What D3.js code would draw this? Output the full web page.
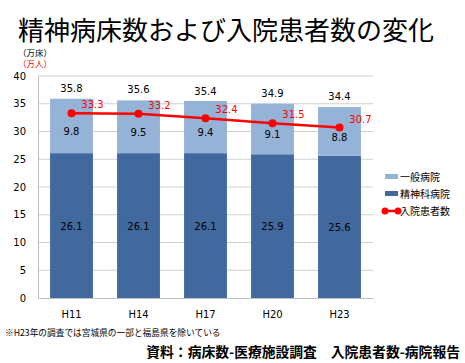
<!DOCTYPE html>
<html>
<head>
<meta charset="utf-8">
<script src="https://cdn.jsdelivr.net/npm/d3@7"></script>
<style>
  body { margin: 0; background: #fff; }
  text { font-family: "Noto Sans CJK JP", sans-serif; }
  .num { font-family: "DejaVu Sans", Verdana, sans-serif; }
</style>
</head>
<body>
<div id="chart"></div>
<script>
// Data
var years = ['H11', 'H14', 'H17', 'H20', 'H23']
var psychBeds = [26.1, 26.1, 26.1, 25.9, 25.6]   // 精神科病院
var generalBeds = [9.8, 9.5, 9.4, 9.1, 8.8]     // 一般病院
var totalBeds = [35.8, 35.6, 35.4, 34.9, 34.4]
var inpatients = [33.3, 33.2, 32.4, 31.5, 30.7] // 入院患者数
var yTicks = [0, 5, 10, 15, 20, 25, 30, 35, 40]

const width = 465
const height = 363
const margin = { left: 38, right: 92, top: 76, bottom: 65 }

const darkBlue = '#41699e'
const lightBlue = '#95b3d7'
const red = '#ff0000'

var svg = d3.select('#chart')
  .append('svg')
  .attr('width', width)
  .attr('height', height)

var x = d3.scaleBand()
  .domain(years)
  .range([margin.left, width - margin.right])
  .paddingInner(0.36)
  .paddingOuter(0.18)

var y = d3.scaleLinear()
  .domain([0, 40])
  .range([height - margin.bottom, margin.top])

// Title
svg.append('text')
  .attr('x', 18)
  .attr('y', 40)
  .attr('font-size', 26)
  .attr('fill', '#000')
  .text('精神病床数および入院患者数の変化')

// Unit labels
svg.append('text').attr('x', 18).attr('y', 56).attr('font-size', 8.5).attr('fill', '#000').text('（万床）')
svg.append('text').attr('x', 18).attr('y', 67).attr('font-size', 8.5).attr('fill', red).text('（万人）')

// Gridlines
svg.append('g')
  .selectAll('line')
  .data(yTicks.slice(1))
  .enter().append('line')
    .attr('x1', margin.left)
    .attr('x2', width - margin.right)
    .attr('y1', d => y(d))
    .attr('y2', d => y(d))
    .attr('stroke', '#d0d0d0')

// Y axis
var yAxis = svg.append('g')
  .attr('transform', 'translate(' + margin.left + ',0)')
  .call(d3.axisLeft(y).tickValues(yTicks).tickSize(0).tickPadding(12))
yAxis.select('.domain').attr('stroke', '#bfbfbf')
yAxis.selectAll('text').attr('class', 'num').attr('font-size', 10).attr('fill', '#000')

// Bars: psychiatric (bottom) then general (top)
var bars = svg.append('g')
bars.selectAll('rect.psych')
  .data(years)
  .enter().append('rect')
    .attr('class', 'psych')
    .attr('x', d => x(d))
    .attr('width', x.bandwidth())
    .attr('y', (d, i) => y(psychBeds[i]))
    .attr('height', (d, i) => y(0) - y(psychBeds[i]))
    .attr('fill', darkBlue)

bars.selectAll('rect.general')
  .data(years)
  .enter().append('rect')
    .attr('class', 'general')
    .attr('x', d => x(d))
    .attr('width', x.bandwidth())
    .attr('y', (d, i) => y(psychBeds[i] + generalBeds[i]))
    .attr('height', (d, i) => y(psychBeds[i]) - y(psychBeds[i] + generalBeds[i]))
    .attr('fill', lightBlue)

// X axis
var xAxis = svg.append('g')
  .attr('transform', 'translate(0,' + y(0) + ')')
  .call(d3.axisBottom(x).tickSize(0).tickPadding(13))
xAxis.select('.domain').attr('stroke', '#bfbfbf')
xAxis.selectAll('text').attr('class', 'num').attr('font-size', 10).attr('fill', '#000')

// Segment labels
var cx = d => x(d) + x.bandwidth() / 2
svg.append('g').selectAll('text')
  .data(years)
  .enter().append('text')
    .attr('class', 'num')
    .attr('x', cx)
    .attr('y', (d, i) => y(psychBeds[i] / 2) + 4)
    .attr('text-anchor', 'middle')
    .attr('font-size', 10)
    .text((d, i) => psychBeds[i].toFixed(1))

svg.append('g').selectAll('text')
  .data(years)
  .enter().append('text')
    .attr('class', 'num')
    .attr('x', cx)
    .attr('y', (d, i) => y(psychBeds[i] + generalBeds[i] / 2) + 9)
    .attr('text-anchor', 'middle')
    .attr('font-size', 10)
    .text((d, i) => generalBeds[i].toFixed(1))

svg.append('g').selectAll('text')
  .data(years)
  .enter().append('text')
    .attr('class', 'num')
    .attr('x', cx)
    .attr('y', (d, i) => y(totalBeds[i]) - 7)
    .attr('text-anchor', 'middle')
    .attr('font-size', 10)
    .text((d, i) => totalBeds[i].toFixed(1))

// Inpatient line
var line = d3.line()
  .x((d, i) => cx(years[i]))
  .y(d => y(d))

svg.append('path')
  .datum(inpatients)
  .attr('fill', 'none')
  .attr('stroke', red)
  .attr('stroke-width', 2.5)
  .attr('d', line)

svg.append('g').selectAll('circle')
  .data(inpatients)
  .enter().append('circle')
    .attr('cx', (d, i) => cx(years[i]))
    .attr('cy', d => y(d))
    .attr('r', 4)
    .attr('fill', red)

svg.append('g').selectAll('text')
  .data(inpatients)
  .enter().append('text')
    .attr('class', 'num')
    .attr('x', (d, i) => cx(years[i]) + 21)
    .attr('y', d => y(d) - 5)
    .attr('text-anchor', 'middle')
    .attr('font-size', 10)
    .attr('fill', red)
    .text(d => d.toFixed(1))

// Legend
var legend = svg.append('g').attr('transform', 'translate(385,0)')
legend.append('rect').attr('x', 0).attr('y', 174).attr('width', 13).attr('height', 5).attr('fill', lightBlue)
legend.append('text').attr('x', 15).attr('y', 181).attr('font-size', 10).text('一般病院')
legend.append('rect').attr('x', 0).attr('y', 191).attr('width', 13).attr('height', 5).attr('fill', darkBlue)
legend.append('text').attr('x', 15).attr('y', 198).attr('font-size', 10).text('精神科病院')
legend.append('line').attr('x1', 0).attr('x2', 13).attr('y1', 211).attr('y2', 211).attr('stroke', red).attr('stroke-width', 2.5)
legend.append('circle').attr('cx', 0).attr('cy', 211).attr('r', 3.5).attr('fill', red)
legend.append('circle').attr('cx', 13).attr('cy', 211).attr('r', 3.5).attr('fill', red)
legend.append('text').attr('x', 15).attr('y', 215).attr('font-size', 10).text('入院患者数')

// Notes
svg.append('text')
  .attr('x', 5).attr('y', 336)
  .attr('font-size', 8.7)
  .text('※H23年の調査では宮城県の一部と福島県を除いている')

svg.append('text')
  .attr('x', 460).attr('y', 357)
  .attr('text-anchor', 'end')
  .attr('font-size', 13.8)
  .attr('font-weight', 'bold')
  .text('資料：病床数-医療施設調査　入院患者数-病院報告')
</script>
</body>
</html>
